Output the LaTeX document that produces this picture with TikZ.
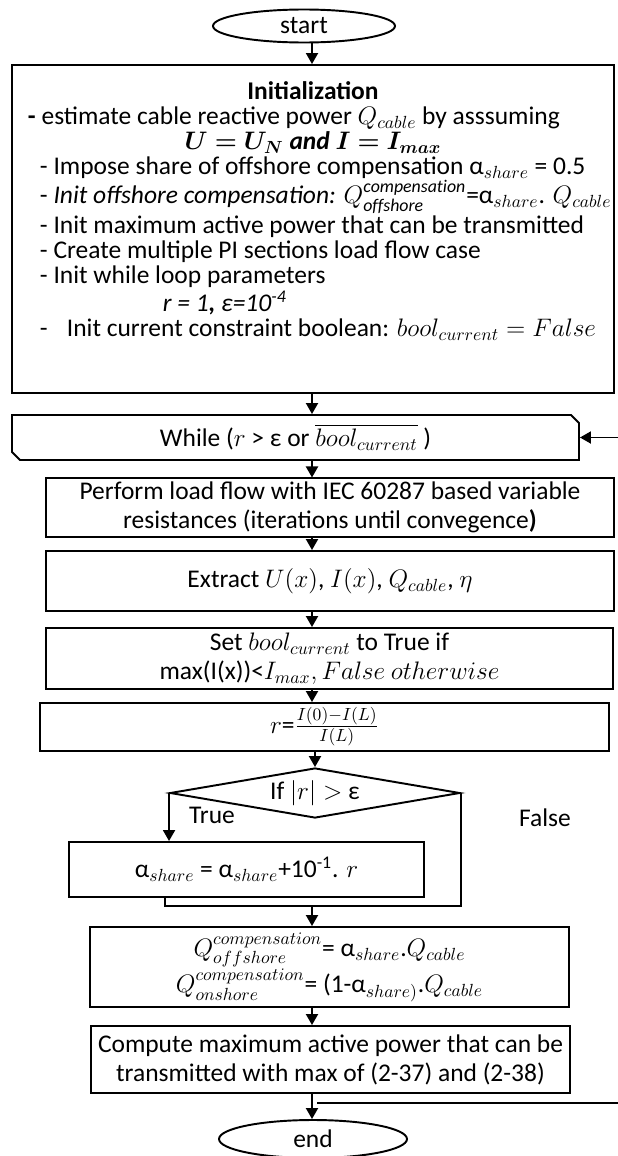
\documentclass[tikz,border=0pt]{standalone}
\usepackage{amsmath,amssymb,bm}
\usepackage{fontspec}
\setmainfont{Carlito}
\usepackage{tikz}
\usetikzlibrary{positioning,arrows.meta,shapes.geometric,shapes.misc,calc}

\newcommand{\initline}[1]{\makebox[11.4cm][l]{#1}}

\begin{document}
\begin{tikzpicture}[
    font=\fontsize{14.5}{16.5}\selectfont,
    term/.style={ellipse, draw, line width=1.1pt, inner sep=0pt},
    proc/.style={rectangle, draw, line width=1.1pt, align=center, inner sep=2pt},
    loopbox/.style={chamfered rectangle, chamfered rectangle corners={north east, south west}, chamfered rectangle xsep=0.08cm, chamfered rectangle ysep=0.08cm, draw, line width=1.1pt, inner sep=0pt},
    decision/.style={diamond, aspect=5.8, draw, line width=1.1pt, inner sep=0pt},
    lbl/.style={inner sep=0pt},
    arrow/.style={-{Triangle[width=0.24cm,length=0.22cm]}, line width=1.1pt},
    link/.style={line width=1.1pt}
]
\useasboundingbox (0,0) rectangle (12.34,-23.12);

\node[term, minimum width=3.64cm, minimum height=0.66cm] (start) at (6.08,-0.52) {start};

\node[proc, minimum width=12.04cm, minimum height=6.56cm, align=left, inner xsep=0.32cm, font=\fontsize{14.5}{14.2}\selectfont] (init) at (6.26,-4.58) {\makebox[11.4cm]{\textbf{Initialization}}\\
\initline{\textbf{-} estimate cable reactive power $Q_{cable}$ by asssuming}\\
\makebox[11.4cm]{$\bm{U=U_N}$ $\bm{\mathit{and}\ I=I_{max}}$}\\
\initline{\hspace*{0.24cm}- Impose share of offshore compensation α$_{share}$ = 0.5}\\
\initline{\hspace*{0.24cm}- \textit{Init offshore compensation:} $Q^{\mathit{compensation}}_{\mathit{offshore}}$=α$_{share}$. $Q_{cable}$}\\
\initline{\hspace*{0.24cm}- Init maximum active power that can be transmitted}\\
\initline{\hspace*{0.24cm}- Create multiple PI sections load flow case}\\
\initline{\hspace*{0.24cm}- Init while loop parameters}\\[2pt]
\initline{\hspace*{2.7cm}\textit{r = 1\textbf{,} ε=10\textsuperscript{-4}}}\\
\initline{\hspace*{0.24cm}-\hspace{0.75em}Init current constraint boolean: $bool_{current}=False$}\\[0.3cm]
\mbox{}};

\node[loopbox, minimum width=11.34cm, minimum height=0.90cm] (while) at (5.91,-8.75) {While ($r$ > ε or $\overline{bool_{current}}$ )};

\node[proc, minimum width=11.36cm, minimum height=1.14cm] (perform) at (6.60,-10.15) {Perform load flow with IEC 60287 based variable\\resistances (iterations until convegence\textbf{)}};
\node[proc, minimum width=11.36cm, minimum height=1.20cm] (extract) at (6.60,-11.62) {Extract $U(x)$, $I(x)$, $Q_{cable}$, $\eta$};
\node[proc, minimum width=11.34cm, minimum height=1.22cm] (setbool) at (6.59,-13.17) {Set $bool_{current}$ to True if\\max(I(x))<$I_{max}, False\ otherwise$};
\node[proc, minimum width=11.38cm, minimum height=0.96cm] (ratio) at (6.49,-14.54) {$r$=$\frac{I(0)-I(L)}{I(L)}$};

\node[decision, minimum width=5.80cm, minimum height=1.00cm] (cond) at (6.30,-15.86) {If $|r| >$ ε};
\node[lbl] (truelbl) at (4.24,-16.30) {True};
\node[lbl] (falselbl) at (10.90,-16.36) {False};

\node[proc, minimum width=7.10cm, minimum height=1.10cm] (alpha) at (4.93,-17.39) {α$_{share}$ = α$_{share}$+10\textsuperscript{-1}. $r$};

\node[proc, minimum width=9.58cm, minimum height=1.60cm] (qbox) at (6.59,-19.34) {$Q^{compensation}_{offshore}$= α$_{share}$.$Q_{cable}$\\$Q^{compensation}_{onshore}$= (1-α$_{share)}$.$Q_{cable}$};
\node[proc, minimum width=9.58cm, minimum height=1.34cm] (compute) at (6.61,-21.19) {Compute maximum active power that can be\\transmitted with max of (2-37) and (2-38)};

\node[term, minimum width=3.76cm, minimum height=0.76cm] (final) at (6.26,-22.78) {end};

\coordinate (axis) at (6.24,0);
\coordinate (join) at (6.24,-18.12);
\coordinate (joinl) at (3.30,-18.12);
\coordinate (rightedge) at (12.42,0);
\coordinate (loopstart) at ($(compute.south -| axis)+(0.10,-0.18)$);

\draw[arrow] (start.south -| axis) -- (init.north -| axis);
\draw[arrow] (init.south -| axis) -- (while.north -| axis);
\draw[arrow] (while.south -| axis) -- (perform.north -| axis);
\draw[arrow] (perform.south -| axis) -- (extract.north -| axis);
\draw[arrow] (extract.south -| axis) -- (setbool.north -| axis);
\draw[arrow] (setbool.south -| axis) -- (ratio.north -| axis);
\draw[arrow] (ratio.south -| cond.north) -- (cond.north);
\draw[arrow] (cond.west) -- (cond.west |- alpha.north);
\draw[link] (alpha.south -| joinl) -- (joinl) -| (cond.east);
\draw[arrow] (join) -- (join |- qbox.north);
\draw[arrow] (qbox.south -| axis) -- (compute.north -| axis);
\draw[arrow] (compute.south -| axis) -- (final.north -| axis);
\draw[arrow] (loopstart) -| (rightedge |- while.east) -- (while.east);

\end{tikzpicture}
\end{document}
